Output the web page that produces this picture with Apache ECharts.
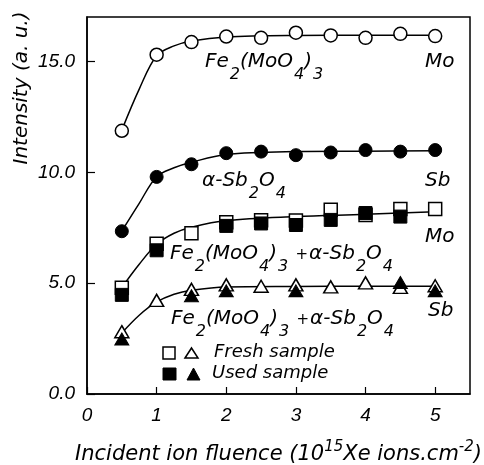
<!DOCTYPE html>
<html>
<head>
<meta charset="utf-8">
<script src="https://cdn.jsdelivr.net/npm/echarts@6/dist/echarts.min.js"></script>
<style>
	html, body { margin: 0; padding: 0; background: #fff; }
	#main { width: 484px; height: 465px; }
</style>
</head>
<body>
<div id="main"></div>
<script>
// fluence (10^15 Xe ions/cm2)
var fluence = [ 0.5, 1, 1.5, 2, 2.5, 3, 3.5, 4, 4.5, 5 ];

// pure oxides
var moPure = [ 11.87, 15.3, 15.87, 16.12, 16.06, 16.29, 16.17, 16.06, 16.24, 16.14 ];
var sbPure = [ 7.34, 9.79, 10.36, 10.86, 10.93, 10.77, 10.89, 11.0, 10.93, 11.0 ];

// Fe2(MoO4)3 + a-Sb2O4, fresh / used
var moFresh = [ 4.79, 6.77, 7.25, 7.74, 7.84, 7.82, 8.31, 8.07, 8.34, 8.34 ];
var moUsed = [ 4.47, 6.48, null, 7.58, 7.69, 7.62, 7.85, 8.16, 8.0, null ];
var sbFresh = [ 2.81, 4.22, 4.72, 4.92, 4.86, 4.92, 4.83, 5.01, 4.81, 4.88 ];
var sbUsed = [ 2.48, null, 4.43, 4.65, null, 4.65, null, null, 5.03, 4.65 ];

// drawn curves
var moCurveX = [ 0.5, 0.75, 1.0, 1.25, 1.5, 2, 3, 4, 5 ];
var moCurveY = [ 11.9, 13.75, 15.25, 15.7, 15.92, 16.1, 16.17, 16.18, 16.18 ];
var sbCurveX = [ 0.5, 0.75, 1.0, 1.25, 1.5, 2, 3, 4, 5 ];
var sbCurveY = [ 7.35, 8.6, 9.8, 10.2, 10.45, 10.8, 10.93, 10.95, 10.97 ];
var mixMoCurveX = [ 0.5, 0.75, 1.0, 1.25, 1.5, 2, 3, 4, 5 ];
var mixMoCurveY = [ 4.8, 5.85, 6.75, 7.25, 7.52, 7.82, 8.0, 8.1, 8.22 ];
var mixSbCurveX = [ 0.5, 0.75, 1.0, 1.25, 1.5, 2, 3, 4, 5 ];
var mixSbCurveY = [ 2.75, 3.55, 4.15, 4.5, 4.68, 4.83, 4.85, 4.86, 4.86 ];

function pairs(xs, ys) {
	var out = [];
	for (var i = 0; i < xs.length; i++) {
		if (ys[i] != null) {
			out.push([ xs[i], ys[i] ]);
		}
	}
	return out;
}

var font = 'DejaVu Sans';
var tickFont = 'Liberation Sans';

// rich styles for sub / superscripts
var rich = {
	m : { fontFamily : font, fontStyle : 'italic', fontSize : 20, verticalAlign : 'top', color : '#000' },
	s : { fontFamily : font, fontStyle : 'italic', fontSize : 16, verticalAlign : 'top', padding : [ 15, 0, 0, 1 ], color : '#000' },
	p : { fontFamily : font, fontStyle : 'italic', fontSize : 15, verticalAlign : 'top', padding : [ 4, 1, 0, 1 ], color : '#000' }
};

function label(txt, left, top) {
	return {
		type : 'text',
		left : left,
		top : top,
		z : 100,
		style : {
			text : txt,
			rich : rich,
			fill : '#000'
		}
	};
}

var mixText = '{m|Fe}{s|2}{m|(MoO}{s|4}{m|)}{s|3}{m| }{p|+}{m|α-Sb}{s|2}{m|O}{s|4}';

var lineStyle = { color : '#000', width : 1.5 };
var openItem = { color : '#fff', borderColor : '#000', borderWidth : 1.5, opacity : 1 };
var fullItem = { color : '#000', borderColor : '#000', borderWidth : 1, opacity : 1 };

function curve(xs, ys) {
	return {
		type : 'line',
		data : pairs(xs, ys),
		showSymbol : false,
		smooth : 0.35,
		lineStyle : lineStyle,
		z : 1,
		silent : true
	};
}

function points(ys, symbol, size, item, z) {
	return {
		type : 'scatter',
		data : pairs(fluence, ys),
		symbol : symbol,
		symbolSize : size,
		itemStyle : item,
		z : z
	};
}

var chart = echarts.init(document.getElementById('main'));
var option = {
	animation : false,
	grid : {
		left : 87,
		right : 14,
		top : 17,
		bottom : 71,
		outerBoundsMode : 'none',
		show : true,
		borderColor : '#000',
		borderWidth : 1.5
	},
	xAxis : {
		type : 'value',
		min : 0,
		max : 5.5,
		interval : 1,
		splitLine : { show : false },
		axisLine : { lineStyle : { color : '#000', width : 1.5 } },
		axisTick : { inside : true, length : 7, lineStyle : { color : '#000', width : 1.2 } },
		axisLabel : {
			showMaxLabel : false,
			margin : 12,
			color : '#000',
			fontFamily : tickFont,
			fontStyle : 'italic',
			fontSize : 19
		},
		name : '{m|Incident ion fluence (10}{u|15}{m|Xe ions.cm}{u|-2}{m|)}',
		nameLocation : 'middle',
		nameGap : 46,
		nameTextStyle : {
			rich : {
				m : { fontFamily : font, fontStyle : 'italic', fontSize : 21, verticalAlign : 'bottom', color : '#000' },
				u : { fontFamily : font, fontStyle : 'italic', fontSize : 15, verticalAlign : 'bottom', padding : [ 0, 0, 10, 0 ], color : '#000' }
			}
		}
	},
	yAxis : {
		type : 'value',
		min : 0,
		max : 17,
		interval : 5,
		splitLine : { show : false },
		axisLine : { lineStyle : { color : '#000', width : 1.5 } },
		axisTick : { inside : true, length : 8, lineStyle : { color : '#000', width : 1.2 } },
		axisLabel : {
			showMaxLabel : false,
			margin : 12,
			color : '#000',
			fontFamily : tickFont,
			fontStyle : 'italic',
			fontSize : 19,
			formatter : function(v) {
				return v.toFixed(1);
			}
		}
	},
	series : [
		curve(moCurveX, moCurveY),
		curve(sbCurveX, sbCurveY),
		curve(mixMoCurveX, mixMoCurveY),
		curve(mixSbCurveX, mixSbCurveY),
		points(moPure, 'circle', 13, openItem, 3),
		points(sbPure, 'circle', 13, fullItem, 3),
		points(moFresh, 'rect', 13, openItem, 3),
		points(moUsed, 'rect', 13, fullItem, 4),
		points(sbFresh, 'triangle', [ 14, 12 ], openItem, 3),
		points(sbUsed, 'triangle', [ 14, 12 ], fullItem, 4)
	],
	graphic : [
		// y axis title, placed near the top as in the original
		{ type : 'text', z : 100, x : 22, y : 88, rotation : Math.PI / 2,
			style : { text : 'Intensity (a. u.)', fill : '#000', fontFamily : font, fontStyle : 'italic',
				fontSize : 20, align : 'center', verticalAlign : 'middle' } },
		label('{m|Fe}{s|2}{m|(MoO}{s|4}{m|)}{s|3}', 205, 52),
		label('{m|Mo}', 425, 52),
		label('{m|α-Sb}{s|2}{m|O}{s|4}', 202, 171),
		label('{m|Sb}', 425, 171),
		label(mixText, 170, 244),
		label('{m|Mo}', 425, 227),
		label(mixText, 171, 309),
		label('{m|Sb}', 428, 301),
		// legend
		{ type : 'rect', z : 100, shape : { x : 163, y : 347, width : 12, height : 12 },
			style : { fill : '#fff', stroke : '#000', lineWidth : 1.5 } },
		{ type : 'polygon', z : 100, shape : { points : [ [ 185, 358 ], [ 191.5, 348 ], [ 198, 358 ] ] },
			style : { fill : '#fff', stroke : '#000', lineWidth : 1.5 } },
		{ type : 'text', z : 100, left : 214, top : 343,
			style : { text : 'Fresh sample', fill : '#000', fontFamily : font, fontStyle : 'italic', fontSize : 18 } },
		{ type : 'rect', z : 100, shape : { x : 163, y : 368, width : 13, height : 12 },
			style : { fill : '#000', stroke : '#000', lineWidth : 1 } },
		{ type : 'polygon', z : 100, shape : { points : [ [ 187, 380 ], [ 193.5, 368 ], [ 200, 380 ] ] },
			style : { fill : '#000', stroke : '#000', lineWidth : 1 } },
		{ type : 'text', z : 100, left : 212, top : 364,
			style : { text : 'Used sample', fill : '#000', fontFamily : font, fontStyle : 'italic', fontSize : 18 } }
	]
};
chart.setOption(option);
</script>
</body>
</html>
